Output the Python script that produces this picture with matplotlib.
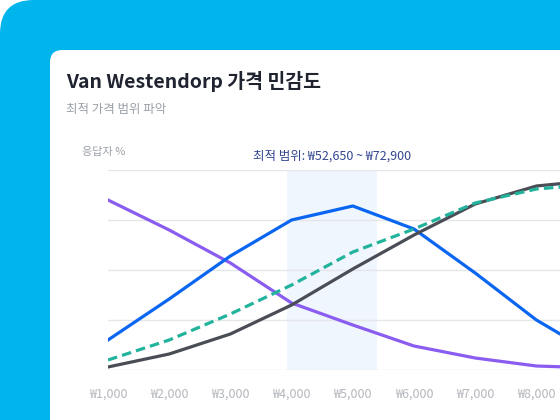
import matplotlib.pyplot as plt
from matplotlib.patches import FancyBboxPatch

plt.rcParams['font.family'] = ['Noto Sans CJK KR', 'DejaVu Sans']

# price points (won) and share of respondents (%)
prices = [1000, 2000, 3000, 4000, 5000, 6000, 7000, 8000, 9000]
too_cheap = [85, 70, 53.5, 33.5, 22.5, 12, 6, 2, 1]
not_bargain = [15, 35.5, 57, 75, 82, 70.5, 48.5, 25, 7]
not_expensive = [5, 15, 28, 42.5, 59, 70.5, 83.5, 90.5, 93]
too_expensive = [1.5, 8, 18, 32.5, 50.5, 67.5, 83, 92, 95]

tick_prices = [1000, 2000, 3000, 4000, 5000, 6000, 7000, 8000]
tick_labels = ['₩1,000', '₩2,000', '₩3,000', '₩4,000',
               '₩5,000', '₩6,000', '₩7,000', '₩8,000']
opt_low, opt_high = 3925, 5395
opt_label = '최적 범위: ₩52,650 ~ ₩72,900'

W, H = 560, 420
fig = plt.figure(figsize=(W / 100, H / 100), dpi=100)
fig.patch.set_facecolor('white')

# blue backdrop and white card (pixel coords -> figure fraction)
def px(x, y):
    return x / W, 1 - y / H

bg = FancyBboxPatch(px(0, 460), 700 / W, 460 / H,
                    boxstyle='round,pad=0,rounding_size=0.06',
                    transform=fig.transFigure, facecolor='#00b4ec',
                    edgecolor='none', mutation_aspect=W / H, zorder=-3)
fig.patches.append(bg)
card = FancyBboxPatch(px(50, 480), 600 / W, 430 / H,
                      boxstyle='round,pad=0,rounding_size=0.022',
                      transform=fig.transFigure, facecolor='white',
                      edgecolor='none', mutation_aspect=W / H, zorder=-2)
fig.patches.append(card)

fig.text(*px(66, 81), 'Van Westendorp 가격 민감도', fontsize=14,
         fontweight='bold', color='#1f2430', va='center', ha='left')
fig.text(*px(66, 109), '최적 가격 범위 파악', fontsize=9,
         color='#9aa0a8', va='center', ha='left')
fig.text(*px(82, 152), '응답자 %', fontsize=8,
         color='#9aa0a8', va='center', ha='left')

x0, x1 = 1000, 9000
left, right = 108, 108 + 61.2 * 8
ax = fig.add_axes([left / W, 50 / H, (right - left) / W, 200 / H])
ax.set_xlim(x0, x1)
ax.set_ylim(0, 100)
ax.patch.set_alpha(0)
for s in ax.spines.values():
    s.set_visible(False)

ax.set_yticks([0, 25, 50, 75, 100])
ax.set_yticklabels([])
ax.grid(axis='y', color='#e4e6ea', linewidth=1)
ax.tick_params(axis='y', length=0)
ax.set_xticks(tick_prices)
ax.set_xticklabels(tick_labels, fontsize=9, color='#b4b7bd')
ax.tick_params(axis='x', length=0, pad=13)
ax.set_axisbelow(True)

ax.axvspan(opt_low, opt_high, color='#f0f6fe', zorder=0.5, linewidth=0)

lw = 2.3
ax.plot(prices, too_cheap, color='#8a5cf0', lw=lw, solid_joinstyle='round')
ax.plot(prices, not_bargain, color='#0a66f0', lw=lw, solid_joinstyle='round')
ax.plot(prices, too_expensive, color='#4a4d55', lw=lw, solid_joinstyle='round')
ax.plot(prices, not_expensive, color='#22b39c', lw=lw, dashes=(3, 1.6))

ax.annotate(opt_label, xy=((opt_low + opt_high) / 2, 100), xytext=(0, 5),
            textcoords='offset points', ha='center', va='bottom',
            fontsize=9, color='#33478f', annotation_clip=False)

fig.savefig('out.png', dpi=100)
